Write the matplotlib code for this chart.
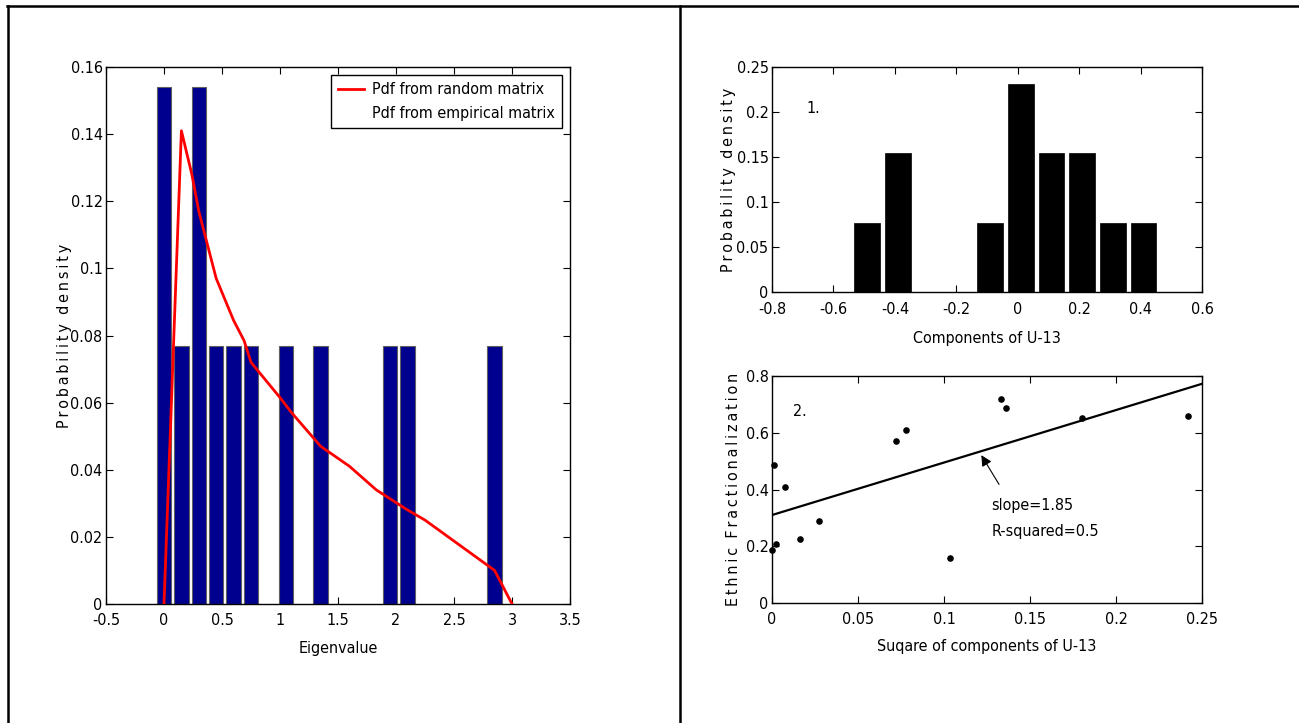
import numpy as np
import matplotlib
matplotlib.use("Agg")
import matplotlib.pyplot as plt
from matplotlib import font_manager as fm
from matplotlib.lines import Line2D
from matplotlib.ticker import FuncFormatter

# the original uses a narrow Arial-like face; take the narrowest one we have
installed = {(f.name, f.stretch) for f in fm.fontManager.ttflist}
names = {n for n, _ in installed}
if 'Liberation Sans Narrow' in names:
    plt.rcParams['font.family'] = ['Liberation Sans Narrow', 'DejaVu Sans']
    FS = 12.5
elif ('DejaVu Sans', 'condensed') in installed or ('DejaVu Sans', 'semi-condensed') in installed:
    plt.rcParams['font.family'] = ['DejaVu Sans']
    plt.rcParams['font.stretch'] = 'condensed'
    FS = 11.5
else:
    plt.rcParams['font.family'] = ['Liberation Sans', 'DejaVu Sans']
    FS = 11
plt.rcParams['font.size'] = FS

# ---- data: eigenvalue histogram + random-matrix pdf ----
eig_centers = [0.0, 0.15, 0.30, 0.45, 0.60, 0.75, 1.05, 1.35, 1.95, 2.10, 2.85]
eig_density = [0.154, 0.077, 0.154, 0.077, 0.077, 0.077, 0.077, 0.077, 0.077, 0.077, 0.077]
pdf_x = [0.0, 0.15, 0.24, 0.30, 0.45, 0.60, 0.69, 0.75, 1.0, 1.1, 1.35, 1.6, 1.83, 2.1,
         2.25, 2.45, 2.65, 2.85, 3.0]
pdf_y = [0.0, 0.141, 0.128, 0.117, 0.097, 0.0845, 0.0785, 0.072, 0.0615, 0.057, 0.047,
         0.041, 0.034, 0.028, 0.025, 0.020, 0.015, 0.010, 0.0]

# ---- data: components of U-13 histogram ----
comp_centers = [-0.49, -0.39, -0.29, -0.19, -0.09, 0.01, 0.11, 0.21, 0.31, 0.41]
comp_density = [0.077, 0.154, 0.0, 0.0, 0.077, 0.231, 0.154, 0.154, 0.077, 0.077]

# ---- data: squared components vs ethnic fractionalization ----
sq_comp = [0.0, 0.0023, 0.0012, 0.0078, 0.0161, 0.0271, 0.0721, 0.0779, 0.1033,
           0.1331, 0.1360, 0.1804, 0.2417]
ethnic = [0.188, 0.209, 0.487, 0.409, 0.226, 0.288, 0.571, 0.609, 0.159,
          0.720, 0.687, 0.653, 0.659]
fit_slope = 1.85
fit_intercept = 0.31
fit_x = [0.0, 0.25]


def spaced(text):
    # MATLAB-ish letter spaced labels
    return "  ".join("\u2009".join(w) for w in text.split(" "))


fmt = FuncFormatter(lambda v, p: f"{round(v, 8) + 0.0:g}")


def matlab_axes(ax, xpad=6.5):
    ax.tick_params(direction='in', top=True, right=True, length=5, width=0.8,
                   labelsize=FS)
    ax.tick_params(axis='x', pad=xpad)
    ax.tick_params(axis='y', pad=2.5)
    for s in ax.spines.values():
        s.set_linewidth(1.0)
    ax.xaxis.set_major_formatter(fmt)
    ax.yaxis.set_major_formatter(fmt)


fig = plt.figure(figsize=(12.99, 7.23), dpi=100)

# ---------------- left panel ----------------
ax1 = fig.add_axes([106 / 1299, 1 - 604 / 723, 464 / 1299, 537 / 723])
ax1.bar(eig_centers, eig_density, width=0.124, color='#00008F', edgecolor='#606060',
        linewidth=0.8, zorder=2)
ax1.plot(pdf_x, pdf_y, color='#FF0000', lw=2, zorder=3)
ax1.set_xlim(-0.5, 3.5)
ax1.set_ylim(0, 0.16)
ax1.set_xticks(np.arange(-0.5, 3.51, 0.5))
ax1.set_yticks(np.arange(0, 0.161, 0.02))
matlab_axes(ax1)
ax1.set_xlabel('Eigenvalue')
ax1.xaxis.label.set_va('center')
ax1.xaxis.set_label_coords(0.5, -(648 - 604) / 537)
ax1.set_ylabel(spaced('Probability density'))
ax1.yaxis.label.set_va('center')
ax1.yaxis.set_label_coords(-(106 - 64) / 464, 0.5)
handles = [Line2D([], [], color='#FF0000', lw=2),
           Line2D([], [], color='none')]
leg = ax1.legend(handles, ['Pdf from random matrix', 'Pdf from empirical matrix'],
                 loc='upper right', fancybox=False, framealpha=1, edgecolor='black',
                 borderaxespad=0.5, handlelength=1.6, handletextpad=0.5,
                 fontsize=FS, borderpad=0.45, labelspacing=0.55)
leg.get_frame().set_linewidth(1.0)

# ---------------- right top ----------------
ax2 = fig.add_axes([772 / 1299, 1 - 292 / 723, 430 / 1299, 225 / 723])
ax2.bar(comp_centers, comp_density, width=0.083, color='black', edgecolor='black',
        linewidth=0.5)
ax2.set_xlim(-0.8, 0.6)
ax2.set_ylim(0, 0.25)
ax2.set_xticks(np.arange(-0.8, 0.61, 0.2))
ax2.set_yticks(np.arange(0, 0.251, 0.05))
matlab_axes(ax2, xpad=7)
ax2.text(-0.667, 0.204, '1.', ha='center', va='center', fontsize=FS)
ax2.set_xlabel('Components of U-13')
ax2.xaxis.label.set_va('center')
ax2.xaxis.set_label_coords(0.5, -(338 - 292) / 225)
ax2.set_ylabel(spaced('Probability density'))
ax2.yaxis.label.set_va('center')
ax2.yaxis.set_label_coords(-(772 - 729) / 430, 0.5)

# ---------------- right bottom ----------------
ax3 = fig.add_axes([772 / 1299, 1 - 603 / 723, 430 / 1299, 227 / 723])
ax3.scatter(sq_comp, ethnic, s=14, color='black', zorder=3, clip_on=False)
fit_y = [fit_intercept + fit_slope * x for x in fit_x]
ax3.plot(fit_x, fit_y, color='black', lw=1.6)
ax3.annotate('', xy=(0.1217, 0.521), xytext=(0.132, 0.418),
             arrowprops=dict(arrowstyle='-|>', color='black', lw=0.8,
                             mutation_scale=16, shrinkA=0, shrinkB=0))
ax3.text(0.1275, 0.342, 'slope=1.85', ha='left', va='center', fontsize=FS)
ax3.text(0.1275, 0.253, 'R-squared=0.5', ha='left', va='center', fontsize=FS)
ax3.text(0.0161, 0.675, '2.', ha='center', va='center', fontsize=FS)
ax3.set_xlim(0, 0.25)
ax3.set_ylim(0, 0.8)
ax3.set_xticks(np.arange(0, 0.251, 0.05))
ax3.set_yticks(np.arange(0, 0.81, 0.2))
matlab_axes(ax3)
ax3.set_xlabel('Suqare of components of U-13')
ax3.xaxis.label.set_va('center')
ax3.xaxis.set_label_coords(0.5, -(646 - 603) / 227)
ax3.set_ylabel(spaced('Ethnic Fractionalization'))
ax3.yaxis.label.set_va('center')
ax3.yaxis.set_label_coords(-(772 - 733) / 430, 0.5)

# ---------------- table frame ----------------
W, H = 1299, 723
frame = [((7, 1299), (6, 6)), ((8, 8), (6, 723)), ((680, 680), (6, 723))]
for xs, ys in frame:
    fig.add_artist(Line2D([x / W for x in xs], [1 - y / H for y in ys],
                          color='black', lw=1.8, transform=fig.transFigure))

fig.savefig('out.png', dpi=100)
